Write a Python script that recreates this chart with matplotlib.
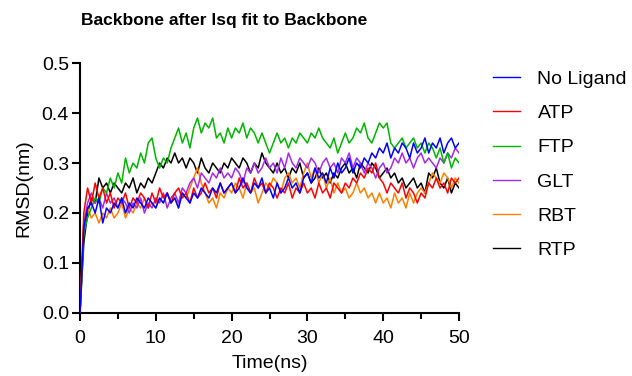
import numpy as np
import matplotlib
matplotlib.use("Agg")
import matplotlib.pyplot as plt
from matplotlib.ticker import MultipleLocator

plt.rcParams['font.family'] = ['Liberation Sans', 'DejaVu Sans']

# time axis (ns), one frame every 0.5 ns
time_ns = np.arange(0, 50.01, 0.5)

no_ligand = [
    0.0, 0.17, 0.21, 0.22, 0.20, 0.23, 0.18, 0.21, 0.20, 0.22,
    0.21, 0.23, 0.20, 0.22, 0.21, 0.23, 0.22, 0.21, 0.23, 0.22,
    0.21, 0.23, 0.22, 0.24, 0.22, 0.23, 0.21, 0.24, 0.23, 0.22,
    0.24, 0.23, 0.25, 0.24, 0.23, 0.25, 0.24, 0.26, 0.24, 0.25,
    0.26, 0.24, 0.25, 0.27, 0.25, 0.24, 0.26, 0.25, 0.27, 0.24,
    0.25, 0.23, 0.26, 0.24, 0.25, 0.27, 0.25, 0.26, 0.24, 0.27,
    0.28, 0.26, 0.29, 0.27, 0.28, 0.26, 0.29, 0.27, 0.30, 0.28,
    0.29, 0.31, 0.28, 0.30, 0.29, 0.31, 0.30, 0.32, 0.31, 0.33,
    0.32, 0.34, 0.31, 0.33, 0.32, 0.34, 0.33, 0.31, 0.34, 0.32,
    0.33, 0.35, 0.32, 0.34, 0.33, 0.35, 0.32, 0.34, 0.35, 0.33,
    0.34]
atp = [
    0.0, 0.20, 0.25, 0.22, 0.26, 0.23, 0.25, 0.22, 0.24, 0.21,
    0.23, 0.22, 0.24, 0.21, 0.23, 0.22, 0.24, 0.23, 0.21, 0.24,
    0.22, 0.25, 0.23, 0.24, 0.22, 0.24, 0.25, 0.23, 0.24, 0.22,
    0.25, 0.23, 0.24, 0.26, 0.24, 0.25, 0.23, 0.26, 0.24, 0.25,
    0.26, 0.24, 0.27, 0.25, 0.26, 0.24, 0.27, 0.25, 0.26, 0.24,
    0.26, 0.25, 0.23, 0.25, 0.24, 0.26, 0.23, 0.25, 0.24, 0.26,
    0.24, 0.25, 0.23, 0.26, 0.24, 0.25, 0.23, 0.26, 0.25, 0.24,
    0.26, 0.25, 0.27, 0.26, 0.28, 0.27, 0.29, 0.28, 0.30, 0.27,
    0.26, 0.24, 0.26, 0.25, 0.24, 0.26, 0.23, 0.25, 0.24, 0.22,
    0.24, 0.23, 0.26, 0.25, 0.27, 0.25, 0.26, 0.24, 0.27, 0.26,
    0.27]
ftp = [
    0.0, 0.16, 0.19, 0.21, 0.23, 0.22, 0.25, 0.24, 0.27, 0.25,
    0.28, 0.26, 0.31, 0.28, 0.30, 0.29, 0.32, 0.30, 0.34, 0.35,
    0.31, 0.29, 0.31, 0.30, 0.33, 0.35, 0.37, 0.34, 0.36, 0.33,
    0.37, 0.39, 0.36, 0.38, 0.37, 0.39, 0.35, 0.36, 0.34, 0.37,
    0.35, 0.37, 0.36, 0.38, 0.35, 0.37, 0.36, 0.34, 0.36, 0.34,
    0.32, 0.34, 0.36, 0.34, 0.35, 0.33, 0.35, 0.34, 0.36, 0.35,
    0.34, 0.36, 0.35, 0.37, 0.35, 0.34, 0.33, 0.35, 0.32, 0.34,
    0.36, 0.34, 0.35, 0.37, 0.36, 0.38, 0.35, 0.34, 0.36, 0.38,
    0.37, 0.38, 0.34, 0.33, 0.34, 0.35, 0.33, 0.34, 0.35, 0.33,
    0.34, 0.32, 0.34, 0.33, 0.31, 0.33, 0.30, 0.32, 0.29, 0.31,
    0.30]
glt = [
    0.0, 0.18, 0.22, 0.24, 0.22, 0.23, 0.21, 0.24, 0.22, 0.23,
    0.21, 0.23, 0.22, 0.20, 0.22, 0.21, 0.23, 0.20, 0.22, 0.21,
    0.23, 0.22, 0.24, 0.21, 0.23, 0.24, 0.22, 0.25, 0.24, 0.26,
    0.27, 0.25, 0.28, 0.27, 0.26, 0.28, 0.27, 0.29, 0.27, 0.28,
    0.27, 0.29, 0.28, 0.26, 0.29, 0.28, 0.30, 0.28, 0.29, 0.31,
    0.29, 0.30, 0.28, 0.31, 0.29, 0.32, 0.30, 0.29, 0.31, 0.30,
    0.29, 0.31, 0.30, 0.28, 0.30, 0.31, 0.29, 0.30, 0.28, 0.31,
    0.30, 0.32, 0.29, 0.31, 0.30, 0.28, 0.30, 0.29, 0.27, 0.29,
    0.30, 0.28, 0.29, 0.31, 0.30, 0.32, 0.30, 0.31, 0.29, 0.31,
    0.32, 0.30, 0.31, 0.30, 0.29, 0.31, 0.30, 0.32, 0.31, 0.33,
    0.32]
rbt = [
    0.0, 0.17, 0.21, 0.19, 0.20, 0.18, 0.20, 0.19, 0.21, 0.19,
    0.20, 0.22, 0.19, 0.21, 0.20, 0.22, 0.21, 0.23, 0.21, 0.22,
    0.21, 0.23, 0.22, 0.24, 0.22, 0.23, 0.21, 0.24, 0.23, 0.25,
    0.27, 0.29, 0.26, 0.24, 0.22, 0.23, 0.21, 0.24, 0.23, 0.25,
    0.24, 0.26, 0.25, 0.23, 0.26, 0.24, 0.25, 0.22, 0.24, 0.26,
    0.25, 0.27, 0.26, 0.24, 0.27, 0.28, 0.26, 0.27, 0.25, 0.28,
    0.30, 0.27, 0.29, 0.26, 0.28, 0.25, 0.27, 0.24, 0.26, 0.24,
    0.25, 0.23, 0.24, 0.26, 0.24, 0.25, 0.23, 0.24, 0.22, 0.24,
    0.22, 0.23, 0.21, 0.24, 0.22, 0.23, 0.21, 0.24, 0.22, 0.24,
    0.25, 0.24, 0.26, 0.28, 0.27, 0.26, 0.28, 0.27, 0.25, 0.27,
    0.26]
rtp = [
    0.0, 0.14, 0.20, 0.23, 0.22, 0.27, 0.25, 0.26, 0.24, 0.26,
    0.25, 0.24, 0.26, 0.25, 0.27, 0.24, 0.26, 0.25, 0.27, 0.26,
    0.28, 0.30, 0.29, 0.31, 0.30, 0.32, 0.30, 0.31, 0.29, 0.31,
    0.30, 0.28, 0.31, 0.29, 0.28, 0.30, 0.29, 0.28, 0.30, 0.29,
    0.31, 0.30, 0.29, 0.31, 0.30, 0.28, 0.30, 0.29, 0.32, 0.30,
    0.29, 0.28, 0.30, 0.28, 0.29, 0.27, 0.29, 0.28, 0.30, 0.27,
    0.28, 0.26, 0.27, 0.29, 0.27, 0.28, 0.26, 0.28, 0.27, 0.29,
    0.30, 0.28, 0.29, 0.27, 0.30, 0.29, 0.28, 0.30, 0.29, 0.27,
    0.28, 0.29, 0.27, 0.28, 0.26, 0.27, 0.25, 0.26, 0.27, 0.25,
    0.26, 0.24, 0.28, 0.27, 0.29, 0.26, 0.25, 0.27, 0.24, 0.26,
    0.25]

labels = ['No Ligand', 'ATP', 'FTP', 'GLT', 'RBT', 'RTP']
series = [no_ligand, atp, ftp, glt, rbt, rtp]
colors = ['#0000FF', '#FF0000', '#00B400', '#A52AE8', '#FF8000', '#000000']

fig = plt.figure(figsize=(6.32, 3.76), dpi=100)
ax = fig.add_axes([0.1266, 0.1676, 0.5997, 0.6648])

n = len(series)
for i, (lab, ys, c) in enumerate(zip(labels, series, colors)):
    ax.plot(time_ns, ys, color=c, lw=1.1, label=lab, zorder=10 + n - i)

ax.set_xlim(0, 50)
ax.set_ylim(0, 0.5)
ax.xaxis.set_major_locator(MultipleLocator(10))
ax.xaxis.set_minor_locator(MultipleLocator(5))
ax.yaxis.set_major_locator(MultipleLocator(0.1))
ax.yaxis.set_major_formatter(plt.FormatStrFormatter('%.1f'))

for s in ['top', 'right']:
    ax.spines[s].set_visible(False)
for s in ['left', 'bottom']:
    ax.spines[s].set_linewidth(1.5)
ax.tick_params(which='major', length=6, width=1.5, labelsize=14,
               direction='out')
ax.tick_params(axis='x', which='major', pad=6)
ax.tick_params(axis='y', which='major', pad=2)
ax.tick_params(which='minor', length=4.5, width=1.5)

ax.set_xlabel('Time(ns)', fontsize=14, labelpad=6)
ax.set_ylabel('RMSD(nm)', fontsize=14, labelpad=7)
fig.text(224 / 632, 1 - 21 / 376, 'Backbone after lsq fit to Backbone',
         fontsize=12.5, fontweight='bold', ha='center', va='center')

leg = ax.legend(loc='upper left', bbox_to_anchor=(1.09, 0.97), frameon=False,
                fontsize=14, labelspacing=0.85, handlelength=1.4,
                handletextpad=0.88, borderpad=0, borderaxespad=0)
for h in leg.get_lines():
    h.set_linewidth(1.0)

fig.savefig('out.png', dpi=100)
